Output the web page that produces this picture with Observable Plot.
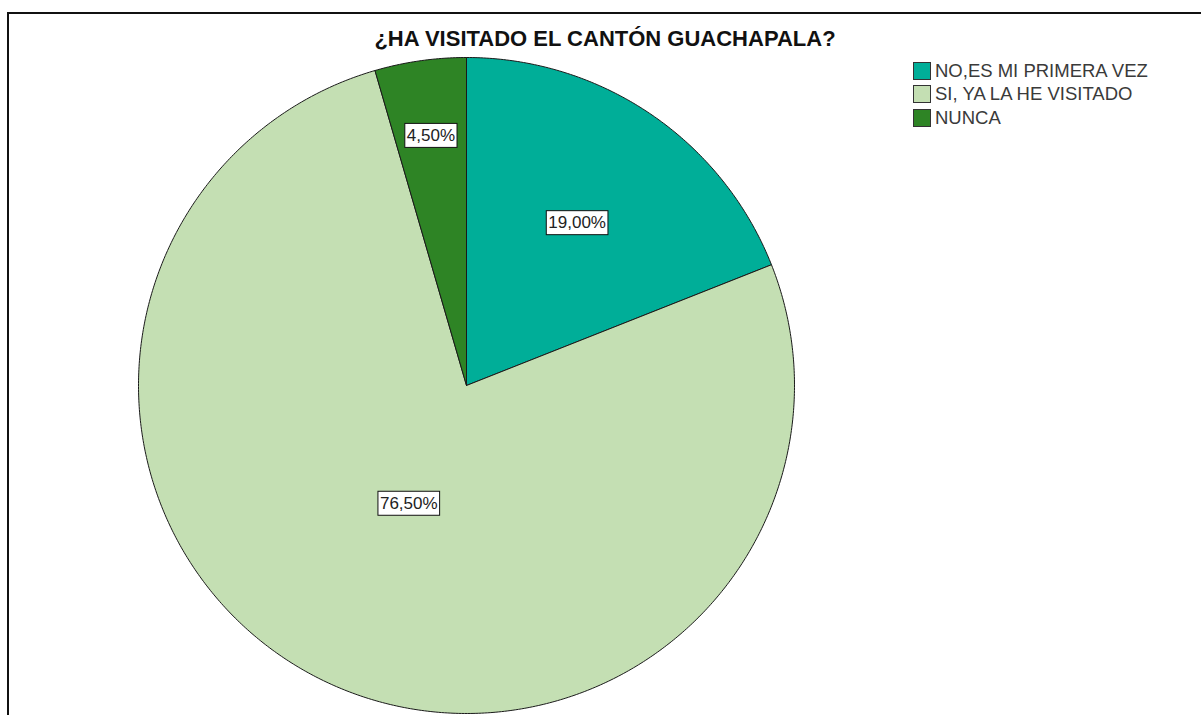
<!DOCTYPE html>
<html>
<head>
<meta charset="utf-8">
<script src="https://cdn.jsdelivr.net/npm/d3@7"></script>
<script src="https://cdn.jsdelivr.net/npm/@observablehq/plot@0.6"></script>
<style>
  html, body { margin: 0; padding: 0; background: #fff; width: 1201px; height: 715px; overflow: hidden; }
  #wrap { position: relative; width: 1201px; height: 715px; }
  #frame { position: absolute; left: 7px; top: 12px; width: 1300px; height: 800px; border-left: 2px solid #111; border-top: 2px solid #111; box-sizing: border-box; pointer-events: none; }
  #title { position: absolute; left: 605px; top: 28px; transform: translateX(-50%); white-space: nowrap;
           font-family: "Liberation Sans", Arial, sans-serif; font-weight: bold; font-size: 22px; line-height: 22px; color: #111; }
  #legend { position: absolute; left: 913px; top: 59px; font-family: "Liberation Sans", Arial, sans-serif; font-size: 18.5px; color: #3a3a3a; }
  .row { display: flex; align-items: center; height: 23.5px; }
  .sw { width: 16px; height: 16px; border: 1px solid #333; margin-right: 4px; }
  #chart { position: absolute; left: 0; top: 0; }
</style>
</head>
<body>
<div id="wrap">
  <div id="chart"></div>
  <div id="frame"></div>
  <div id="title"></div>
  <div id="legend"></div>
</div>
<script>
const chartTitle = "¿HA VISITADO EL CANTÓN GUACHAPALA?";
const categories = ["NO,ES MI PRIMERA VEZ", "SI, YA LA HE VISITADO", "NUNCA"];
const percents = [19.0, 76.5, 4.5];
const labels = ["19,00%", "76,50%", "4,50%"];
const colors = ["#00AE98", "#C4DFB3", "#2E8425"];

const rows = categories.map((c, i) => ({cat: c, value: percents[i], label: labels[i]}));
const arcs = d3.pie().sort(null).value(d => d.value)(rows);

// slice outlines in data units (unit circle), y up
const pts = [];
for (const a of arcs) {
  const n = Math.max(2, Math.ceil((a.endAngle - a.startAngle) / (Math.PI / 360)));
  pts.push({cat: a.data.cat, x: 0, y: 0});
  for (let k = 0; k <= n; k++) {
    const t = a.startAngle + (a.endAngle - a.startAngle) * k / n;
    pts.push({cat: a.data.cat, x: Math.sin(t), y: Math.cos(t)});
  }
  pts.push({cat: a.data.cat, x: 0, y: 0});
}

// label placement rule: thin slices push outward, the dominant slice sits nearer the centre
const labelPts = arcs.map(a => {
  const mid = (a.startAngle + a.endAngle) / 2;
  const r = a.data.value > 50 ? 0.4 : a.data.value < 10 ? 0.77 : 0.6;
  return {x: r * Math.sin(mid), y: r * Math.cos(mid), text: a.data.label};
});

const svg = Plot.plot({
  width: 1201,
  height: 715,
  marginLeft: 138,
  marginRight: 407,
  marginTop: 57,
  marginBottom: 2,
  style: {fontFamily: "Liberation Sans, Arial, sans-serif", background: "transparent"},
  x: {domain: [-1, 1], axis: null},
  y: {domain: [-1, 1], axis: null},
  color: {domain: categories, range: colors},
  marks: [
    Plot.line(pts, {x: "x", y: "y", z: "cat", fill: "cat", stroke: "#1a1a1a", strokeWidth: 1, curve: "linear"}),
    Plot.text(labelPts, {x: "x", y: "y", text: "text", fontSize: 17, fill: "#222"})
  ]
});
document.getElementById("chart").appendChild(svg);

// white boxes behind the value labels
svg.querySelectorAll('g[aria-label="text"] text').forEach(t => {
  const b = t.getBBox();
  const r = document.createElementNS("http://www.w3.org/2000/svg", "rect");
  r.setAttribute("x", b.x - 2);
  r.setAttribute("y", b.y - 2.5);
  r.setAttribute("width", b.width + 4);
  r.setAttribute("height", b.height + 5);
  r.setAttribute("fill", "#fff");
  r.setAttribute("stroke", "#111");
  r.setAttribute("stroke-width", 1);
  const tr = t.getAttribute("transform");
  if (tr) r.setAttribute("transform", tr);
  t.parentNode.insertBefore(r, t);
});

document.getElementById("title").textContent = chartTitle;
const legend = document.getElementById("legend");
categories.forEach((c, i) => {
  const row = document.createElement("div");
  row.className = "row";
  const sw = document.createElement("div");
  sw.className = "sw";
  sw.style.background = colors[i];
  const tx = document.createElement("span");
  tx.textContent = c;
  row.appendChild(sw);
  row.appendChild(tx);
  legend.appendChild(row);
});
</script>
</body>
</html>
